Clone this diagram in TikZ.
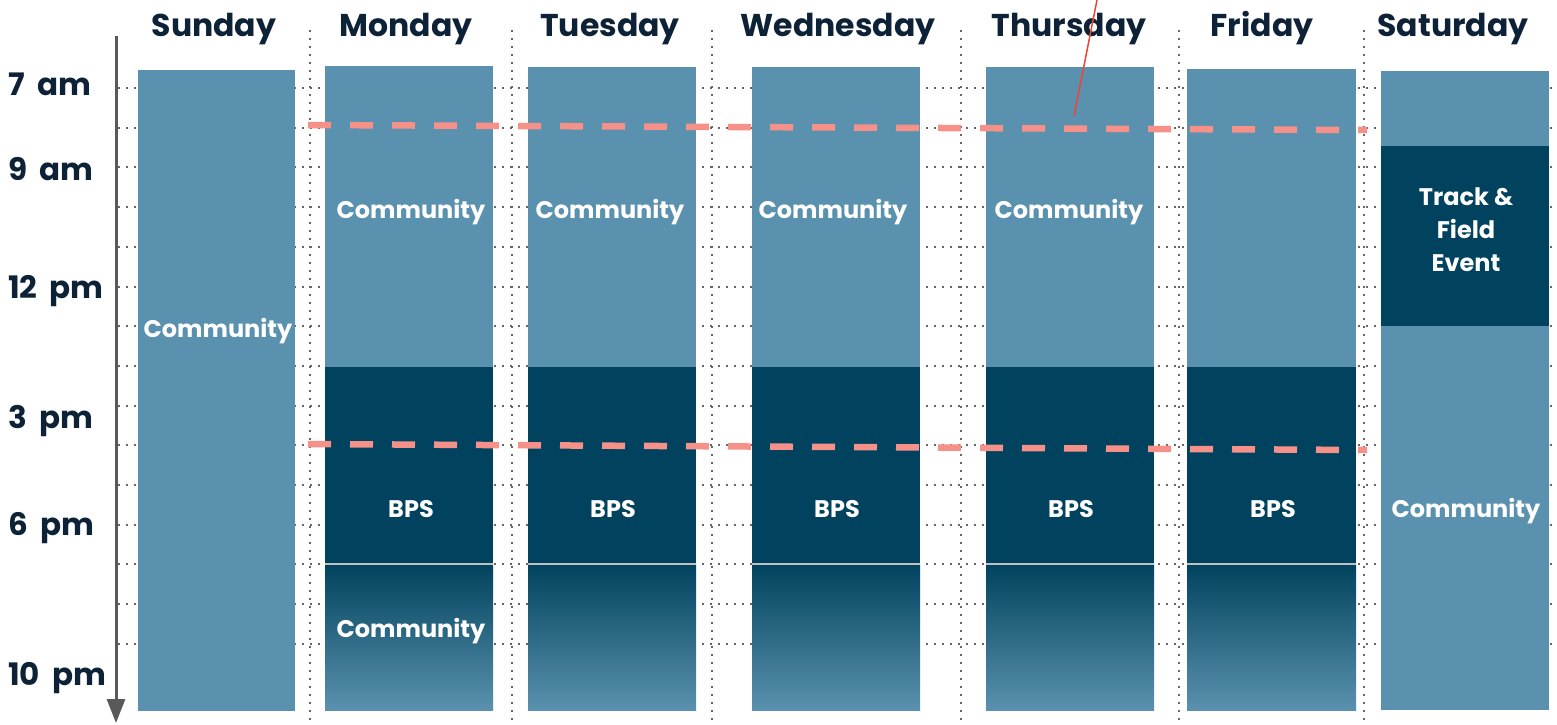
\documentclass[tikz,border=0pt]{standalone}
\usepackage{fontspec}
\setmainfont{Poppins}
\usetikzlibrary{arrows.meta}
\definecolor{lightb}{HTML}{5A91AE}
\definecolor{darkb}{HTML}{01435E}
\definecolor{navy}{HTML}{0D2236}
\definecolor{salmon}{HTML}{F69189}
\definecolor{dotg}{HTML}{666666}
\definecolor{arrowg}{HTML}{595959}
\definecolor{sepg}{HTML}{C0C0C0}
\definecolor{redl}{HTML}{EE4433}
\newcommand{\tsp}{\hspace{0.4em}}
\begin{document}
\begin{tikzpicture}[x=1pt,y=-1pt,
  dayname/.style={font=\bfseries\fontsize{31.5}{31.5}\selectfont, text=navy, anchor=base, inner sep=0pt},
  timelbl/.style={font=\bfseries\fontsize{31}{31}\selectfont, text=navy, anchor=base west, inner sep=0pt},
  boxlbl/.style={font=\bfseries\fontsize{24}{33}\selectfont, text=white, anchor=base, inner sep=0pt, align=center},
  hdot/.style={dotg, line width=2pt, dash pattern=on 2pt off 6pt},
  vdot/.style={dotg, line width=2pt, dash pattern=on 2pt off 6pt},
  splitline/.style={salmon, line width=6.5pt, dash pattern=on 23pt off 19pt},
  sepline/.style={sepg, line width=2pt}
]
\useasboundingbox (0,0) rectangle (1557,724);
% grid
\foreach \k in {0,...,14} \draw[hdot] (118,88+39.7*\k) -- (1557,88+39.7*\k);
\foreach \x in {310,512,712,961,1179,1364} \draw[vdot] (\x,30) -- (\x,724);
% Sunday
\fill[lightb] (138,70) rectangle (295,711);
% Monday .. Friday
\foreach \xa/\xb/\yt in {325/493/66, 528/696/67, 752/920/67, 986/1154/67, 1187/1356/69} {
  \fill[lightb] (\xa,\yt) rectangle (\xb,367);
  \fill[darkb] (\xa,367) rectangle (\xb,564);
  \shade[top color=darkb, bottom color=lightb] (\xa,564) rectangle (\xb,710);
  \draw[sepline] (\xa,564) -- (\xb,564);
}
% Saturday
\fill[lightb] (1381,71) rectangle (1549,710);
\fill[darkb] (1381,146) rectangle (1549,326);
% headers
\node[dayname] (sun) at (214,36) {Sunday};
\node[dayname] (mon) at (406,36) {Monday};
\node[dayname] (tue) at (610,36) {Tuesday};
\node[dayname] (wed) at (838,36) {Wednesday};
\node[dayname] (thu) at (1069,36) {Thursday};
\node[dayname] (fri) at (1262,36) {Friday};
\node[dayname] (sat) at (1453,36) {Saturday};
% time labels
\node[timelbl] (t7) at (8,95) {7\tsp am};
\node[timelbl] (t9) at (8,180) {9\tsp am};
\node[timelbl] (t12) at (8,298) {12\tsp pm};
\node[timelbl] (t3) at (8,428) {3\tsp pm};
\node[timelbl] (t6) at (8,535) {6\tsp pm};
\node[timelbl] (t10) at (8,685) {10\tsp pm};
% time axis
\coordinate (axtop) at (116,36);
\coordinate (axbot) at (116,723);
\draw[arrowg, line width=3pt, -{Triangle[width=18pt,length=24pt]}] (axtop) -- (axbot);
% dashed split lines
\coordinate (s1a) at (308,125);
\coordinate (s1b) at (1367,130);
\coordinate (s2a) at (308,444);
\coordinate (s2b) at (1367,450);
\draw[splitline] (s1a) -- (s1b);
\draw[splitline] (s2a) -- (s2b);
% red annotation line
\coordinate (ra) at (1074,116);
\coordinate (rb) at (1097,0);
\draw[redl, line width=1.5pt] (ra) -- (rb);
% box labels
\node[boxlbl] (csun) at (218,337) {Community};
\node[boxlbl] (cmon) at (411,218) {Community};
\node[boxlbl] (ctue) at (610,218) {Community};
\node[boxlbl] (cwed) at (833,218) {Community};
\node[boxlbl] (cthu) at (1069,218) {Community};
\node[boxlbl] (bmon) at (411,517) {BPS};
\node[boxlbl] (btue) at (613,517) {BPS};
\node[boxlbl] (bwed) at (837,517) {BPS};
\node[boxlbl] (bthu) at (1071,517) {BPS};
\node[boxlbl] (bfri) at (1273,517) {BPS};
\node[boxlbl] (cmon2) at (411,637) {Community};
\node[boxlbl] (csat) at (1466,517) {Community};
\node[boxlbl] (tf1) at (1466,205) {Track \&};
\node[boxlbl] (tf2) at (1466,238) {Field};
\node[boxlbl] (tf3) at (1466,271) {Event};
\end{tikzpicture}
\end{document}
